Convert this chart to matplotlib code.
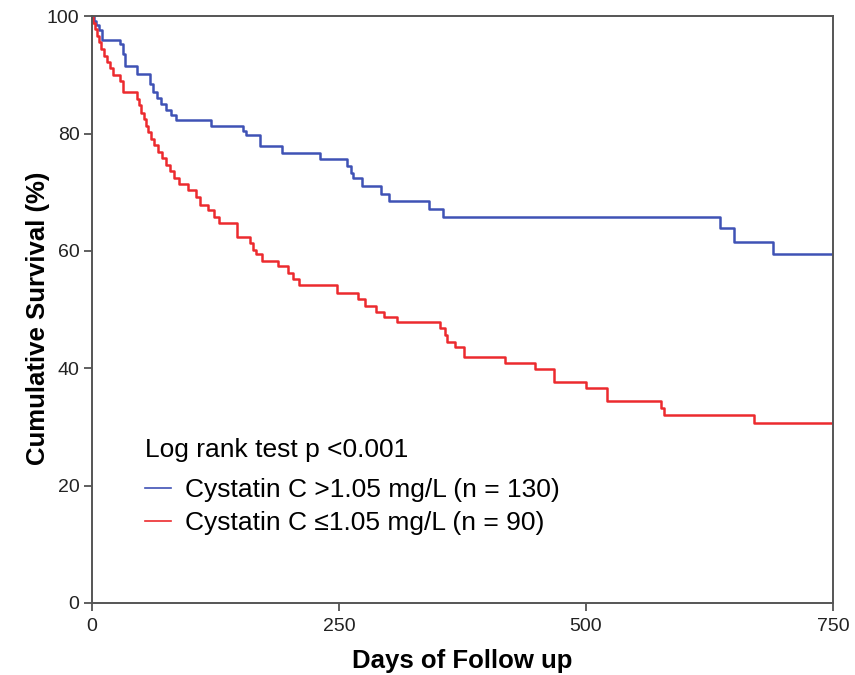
import numpy as np
import matplotlib
matplotlib.use('Agg')
import matplotlib.pyplot as plt

# Kaplan-Meier steps (days, cumulative survival %)
days_high = [0, 2, 4, 7, 10, 28, 31, 33, 46, 59, 62, 66, 70, 75, 80, 85, 120, 153, 156, 170,
             192, 231, 258, 262, 264, 273, 293, 301, 341, 355, 636, 650, 689, 750]
surv_high = [100, 99.2, 98.5, 97.7, 96.0, 95.2, 93.5, 91.5, 90.2, 88.5, 87.0, 86.0, 85.0, 84.0, 83.1,
             82.3, 81.3, 80.4, 79.7, 77.8, 76.7, 75.6, 74.5, 73.3, 72.5, 71.0, 69.7, 68.5, 67.1,
             65.8, 63.9, 61.5, 59.5, 59.5]

days_low = [0, 1, 3, 5, 7, 9, 12, 15, 18, 21, 28, 31, 46, 48, 50, 53, 55, 57, 60, 63, 67, 71, 75,
            79, 83, 88, 97, 105, 109, 117, 124, 129, 147, 160, 163, 166, 172, 188, 198, 203, 210,
            248, 269, 276, 288, 296, 309, 352, 357, 359, 367, 377, 418, 448, 468, 500, 521, 576,
            579, 670, 750]
surv_low = [100, 98.9, 97.8, 96.7, 95.6, 94.4, 93.3, 92.2, 91.1, 90.0, 88.9, 87.0, 85.9, 84.8, 83.5,
            82.4, 81.3, 80.2, 79.1, 78.0, 76.9, 75.8, 74.7, 73.6, 72.5, 71.4, 70.3, 69.2, 67.8,
            67.0, 65.8, 64.7, 62.4, 61.3, 60.2, 59.4, 58.3, 57.4, 56.3, 55.2, 54.2, 52.8, 51.8,
            50.6, 49.6, 48.7, 47.9, 46.8, 45.6, 44.5, 43.6, 41.9, 40.9, 39.9, 37.6, 36.6, 34.4,
            33.2, 32.0, 30.7, 30.7]

label_high = 'Cystatin C >1.05 mg/L (n = 130)'
label_low = 'Cystatin C \u22641.05 mg/L (n = 90)'
x_ticks = [0, 250, 500, 750]
y_ticks = [0, 20, 40, 60, 80, 100]

plt.rcParams['font.family'] = ['Liberation Sans', 'DejaVu Sans']

fig = plt.figure(figsize=(8.55, 6.75), dpi=100)
ax = fig.add_axes([0.1076, 0.1067, 0.8665, 0.8693])

ax.step(days_high, surv_high, where='post', color='#3f52b5', lw=1.8, label=label_high)
ax.step(days_low, surv_low, where='post', color='#ec2a2e', lw=1.8, label=label_low)

ax.set_xlim(0, 750)
ax.set_ylim(0, 100)
ax.set_xticks(x_ticks)
ax.set_yticks(y_ticks)
ax.tick_params(axis='both', direction='out', length=6, width=1.2, color='#444444',
               labelsize=14, labelcolor='#222222', pad=3)
ax.tick_params(axis='x', pad=5)
for s in ax.spines.values():
    s.set_color('#555555')
    s.set_linewidth(1.4)

ax.set_xlabel('Days of Follow up', fontsize=18.5, fontweight='bold', labelpad=10)
ax.set_ylabel('Cumulative Survival (%)', fontsize=18.5, fontweight='bold')
ax.yaxis.set_label_coords(-0.057, 0.485)

leg = ax.legend(title='Log rank test p <0.001', loc='lower left', bbox_to_anchor=(0.0715, 0.115),
                frameon=False, fontsize=19, title_fontsize=19, handlelength=1.0,
                handletextpad=0.5, labelspacing=0.35, alignment='left',
                borderpad=0, borderaxespad=0)
leg._legend_box.sep += 5
for line in leg.get_lines():
    line.set_linewidth(1.2)

fig.savefig('out.png', dpi=100)
